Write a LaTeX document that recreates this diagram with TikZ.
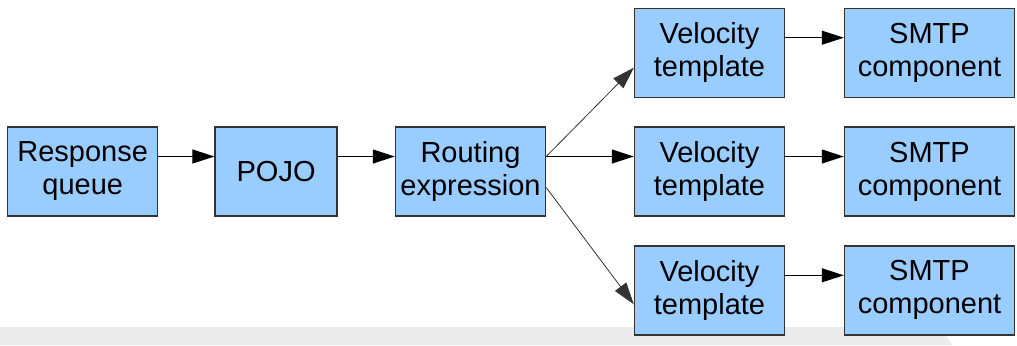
\documentclass[tikz,border=0pt]{standalone}
\usepackage{fontspec}
\setmainfont{Liberation Sans}
\usepackage{xcolor}
\usetikzlibrary{arrows.meta,positioning,backgrounds}
\definecolor{boxblue}{HTML}{99CCFF}
\definecolor{boxline}{HTML}{333333}
\definecolor{band}{HTML}{EBEBEB}

\begin{document}
\begin{tikzpicture}[
    x=0.5pt,y=-0.5pt,
    font=\fontsize{14.5}{16.5}\selectfont,
    >={Triangle[length=11pt,width=7pt]},
    flow/.style={->,draw=black,line width=0.5pt},
    branch/.style={->,draw=black!80,line width=0.4pt},
    block/.style={draw=boxline,fill=boxblue,line width=0.7pt,
      minimum height=44.5pt,align=center,inner sep=1pt},
    lift/.style={yshift=7.5pt}
  ]
    \useasboundingbox (0,0) rectangle (1017,345);
    \fill[band] (0,327) -- (940,327) -- (952,345) -- (0,345) -- cycle;

    \node[block,minimum width=75pt,anchor=west] (queue) at (7,171.5) {Response\\queue};
    \node[block,minimum width=61pt,right=28pt of queue] (pojo) {POJO};
    \node[block,minimum width=75pt,right=28.5pt of pojo] (route) {Routing\\expression};

    \node[block,minimum width=75pt,right=43.8pt of route] (velmid) {Velocity\\template};
    \node[block,minimum width=75pt,above=14.2pt of velmid] (veltop) {Velocity\\template};
    \node[block,minimum width=75pt,below=14.2pt of velmid] (velbot) {Velocity\\template};

    \node[block,minimum width=85pt,right=29.3pt of veltop] (smtptop) {SMTP\\component};
    \node[block,minimum width=85pt,right=29.3pt of velmid] (smtpmid) {SMTP\\component};
    \node[block,minimum width=85pt,right=29.3pt of velbot] (smtpbot) {SMTP\\component};

    \draw[flow] ([lift]queue.east) -- ([lift]pojo.west);
    \draw[flow] ([lift]pojo.east) -- ([lift]route.west);
    \draw[flow] ([lift]route.east) -- ([lift]velmid.west);
    \draw[branch] ([lift]route.east) -- ([yshift=-7.5pt]veltop.west);
    \draw[branch] ([yshift=-8pt]route.east) -- ([yshift=-7pt]velbot.west);

    \draw[flow] ([lift]veltop.east) -- ([lift]smtptop.west);
    \draw[flow] ([lift]velmid.east) -- ([lift]smtpmid.west);
    \draw[flow] ([lift]velbot.east) -- ([lift]smtpbot.west);
  \end{tikzpicture}
\end{document}
